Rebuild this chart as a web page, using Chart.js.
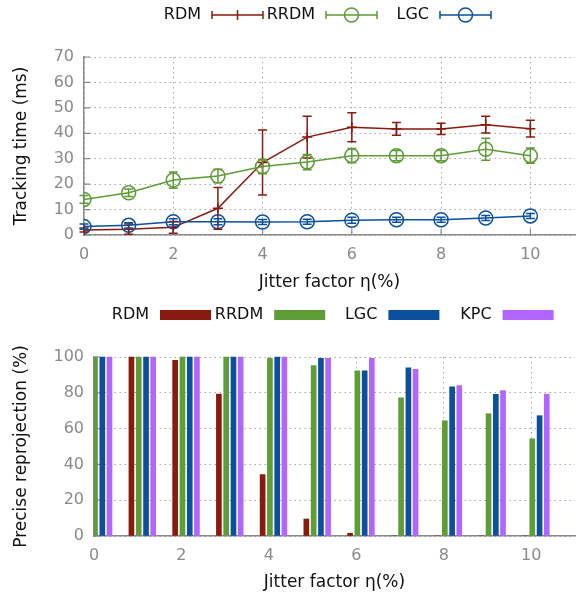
<!DOCTYPE html>
<html><head><meta charset="utf-8">
<script src="https://cdn.jsdelivr.net/npm/chart.js@4.4.0/dist/chart.umd.min.js"></script>
<style>
html,body{margin:0;padding:0;background:#fff;}
#wrap{position:relative;width:587px;height:597px;overflow:hidden;}
#c1{position:absolute;left:0;top:0;width:587px;height:300px;}
#c2{position:absolute;left:0;top:300px;width:587px;height:297px;}
</style></head><body>
<div id="wrap"><canvas id="c1" width="587" height="300"></canvas><canvas id="c2" width="587" height="297"></canvas></div>
<script>
// ---- data ----
const jitter = [0, 1, 2, 3, 4, 5, 6, 7, 8, 9, 10];
const seriesNames = ['RDM', 'RRDM', 'LGC'];
const barNames = ['RDM', 'RRDM', 'LGC', 'KPC'];

const rdmTime   = [2.0, 2.3, 3.0, 10.5, 28.5, 38.5, 42.4, 41.7, 41.7, 43.4, 41.8];
const rdmErr    = [0.8, 2.0, 2.3, 8.2, 12.8, 8.2, 5.7, 2.5, 2.2, 3.3, 3.3];
const rrdmTime  = [14.0, 16.6, 21.6, 23.2, 26.9, 28.7, 31.2, 31.2, 31.2, 33.7, 31.2];
const rrdmErr   = [1.5, 1.5, 3.2, 2.7, 2.8, 3.0, 2.8, 2.0, 2.0, 4.3, 3.0];
const lgcTime   = [3.3, 3.8, 5.2, 5.2, 5.1, 5.2, 5.8, 6.0, 6.0, 6.7, 7.5];
const lgcErr    = [1.0, 1.0, 1.2, 1.2, 1.0, 1.0, 1.2, 1.0, 1.0, 1.0, 1.0];

const rdmPrec  = [100, 100, 98.1, 79.3, 34.3, 9.5, 1.5, 0, 0, 0, 0];
const rrdmPrec = [100, 100, 100, 100, 99.2, 95.2, 92.3, 77.2, 64.4, 68.3, 54.3];
const lgcPrec  = [100, 100, 100, 100, 100, 99.2, 92.3, 94.0, 83.4, 79.2, 67.2];
const kpcPrec  = [100, 100, 100, 100, 100, 99.2, 99.2, 93.1, 84.1, 81.2, 79.3];

const timeTicks = {min: 0, max: 70, step: 10};
const precTicks = {min: 0, max: 100, step: 20};
const xTicks = {min: 0, max: 11, step: 2};

// ---- style ----
const FONT = "'DejaVu Sans', sans-serif";
const RED = '#8b1a0e', GREEN = '#5e9c36', BLUE = '#0a509e', PURPLE = '#b266ff';
const TICK = '#8a8a8a', AXIS = '#8a8a8a', GRID = '#a8a8a8';
const barOffsets = [-0.144, 0.023, 0.19, 0.354];

function pts(ys, dx) { return jitter.map((x, i) => ({x: x + (dx || 0), y: ys[i]})); }

const errorBars = {
  id: 'errorBars',
  afterDatasetsDraw(chart) {
    const ctx = chart.ctx, ys = chart.scales.y;
    chart.data.datasets.forEach((ds, i) => {
      if (!ds.errors) return;
      const meta = chart.getDatasetMeta(i);
      ctx.save();
      ctx.strokeStyle = ds.borderColor; ctx.lineWidth = 1.5;
      meta.data.forEach((el, j) => {
        const v = ds.data[j].y, e = ds.errors[j];
        const y1 = ys.getPixelForValue(v - e), y2 = ys.getPixelForValue(v + e), x = el.x;
        ctx.beginPath();
        ctx.moveTo(x, y1); ctx.lineTo(x, y2);
        ctx.moveTo(x - 4.5, y1); ctx.lineTo(x + 4.5, y1);
        ctx.moveTo(x - 4.5, y2); ctx.lineTo(x + 4.5, y2);
        ctx.stroke();
      });
      ctx.restore();
    });
  }
};

const innerTicks = {
  id: 'innerTicks',
  beforeDatasetsDraw(chart) {
    const ctx = chart.ctx, a = chart.chartArea, xs = chart.scales.x, ys = chart.scales.y;
    ctx.save();
    ctx.strokeStyle = AXIS; ctx.lineWidth = 1.2;
    ctx.beginPath();
    ys.ticks.forEach(t => { const y = ys.getPixelForValue(t.value); ctx.moveTo(a.left, y); ctx.lineTo(a.left + 6, y); });
    xs.ticks.forEach(t => { const x = xs.getPixelForValue(t.value); ctx.moveTo(x, a.bottom); ctx.lineTo(x, a.bottom - 6); });
    ctx.stroke();
    ctx.restore();
  }
};

const decor = {
  id: 'decor',
  afterDraw(chart, args, opts) {
    const ctx = chart.ctx, a = chart.chartArea;
    ctx.save();
    ctx.fillStyle = '#111';
    ctx.font = '17px ' + FONT;
    // y title
    ctx.save();
    ctx.translate(opts.yTitleX, (a.top + a.bottom) / 2);
    ctx.rotate(-Math.PI / 2);
    ctx.textAlign = 'center'; ctx.textBaseline = 'middle';
    ctx.fillText(opts.yTitle, 0, 0);
    ctx.restore();
    // x title
    ctx.textAlign = 'center'; ctx.textBaseline = 'middle';
    ctx.fillText(opts.xTitle, (a.left + a.right) / 2, opts.xTitleY);
    // legend
    ctx.font = '16px ' + FONT;
    ctx.textAlign = 'right';
    const ds = chart.data.datasets;
    opts.legend.forEach((name, i) => {
      const d = ds.find(s => s.label === name);
      const tx = opts.legX + i * opts.legStep, y = opts.legY;
      ctx.fillStyle = '#111';
      ctx.fillText(name, tx, y);
      const sx = tx + 11, w = 51;
      if (opts.kind === 'box') {
        ctx.fillStyle = d.backgroundColor;
        ctx.fillRect(sx, y - 5, w, 10);
      } else {
        ctx.strokeStyle = d.borderColor; ctx.lineWidth = 1.5;
        ctx.beginPath();
        ctx.moveTo(sx, y); ctx.lineTo(sx + w, y);
        ctx.moveTo(sx, y - 4); ctx.lineTo(sx, y + 4);
        ctx.moveTo(sx + w, y - 4); ctx.lineTo(sx + w, y + 4);
        ctx.stroke();
        const cx = sx + w / 2;
        ctx.beginPath();
        if (d.pointStyle === 'cross') {
          ctx.moveTo(cx, y - 5); ctx.lineTo(cx, y + 5);
        } else {
          ctx.arc(cx, y, 7, 0, Math.PI * 2);
        }
        ctx.stroke();
      }
    });
    ctx.restore();
  }
};

function xScale(bottomHeight) {
  return {
    type: 'linear', min: xTicks.min, max: xTicks.max, offset: false,
    afterFit(s) { s.height = bottomHeight; },
    ticks: {stepSize: xTicks.step, includeBounds: false, color: TICK, font: {family: FONT, size: 16}, padding: 10, maxRotation: 0},
    grid: {color: GRID, lineWidth: 1, drawTicks: false, offset: false},
    border: {color: AXIS, width: 1.5, dash: [1.5, 3.5]}
  };
}
function yScale(t, width) {
  return {
    min: t.min, max: t.max,
    afterFit(s) { s.width = width; },
    ticks: {stepSize: t.step, color: TICK, font: {family: FONT, size: 16}, padding: 10},
    grid: {color: GRID, lineWidth: 1, drawTicks: false},
    border: {color: AXIS, width: 1.5, dash: [1.5, 3.5]}
  };
}

// ---- top chart ----
const lineColors = [RED, GREEN, BLUE];
const lineVals = [rdmTime, rrdmTime, lgcTime];
const lineErrs = [rdmErr, rrdmErr, lgcErr];
new Chart(document.getElementById('c1'), {
  type: 'line',
  data: {
    datasets: seriesNames.map((n, i) => ({
      label: n, data: pts(lineVals[i]), errors: lineErrs[i],
      borderColor: lineColors[i], backgroundColor: 'rgba(0,0,0,0)',
      borderWidth: 1.5, tension: 0,
      pointStyle: i === 0 ? 'cross' : 'circle',
      pointRadius: i === 0 ? 5 : 7, pointBorderWidth: 1.5,
      pointBackgroundColor: 'rgba(0,0,0,0)', pointBorderColor: lineColors[i],
      order: 3 - i
    }))
  },
  options: {
    responsive: false, animation: false,
    layout: {padding: {top: 57, right: 12, left: 0, bottom: 0}},
    scales: {x: xScale(65), y: yScale(timeTicks, 84)},
    plugins: {
      legend: {display: false}, tooltip: {enabled: false},
      decor: {yTitle: 'Tracking time (ms)', yTitleX: 22, xTitle: 'Jitter factor η(%)', xTitleY: 283,
        legend: seriesNames, legX: 201, legStep: 114, legY: 15, kind: 'line'}
    }
  },
  plugins: [innerTicks, errorBars, decor]
});

// ---- bottom chart ----
const barColors = [RED, GREEN, BLUE, PURPLE];
const barVals = [rdmPrec, rrdmPrec, lgcPrec, kpcPrec];
new Chart(document.getElementById('c2'), {
  type: 'bar',
  data: {
    datasets: barNames.map((n, i) => ({
      label: n, data: pts(barVals[i], barOffsets[i]),
      backgroundColor: barColors[i], borderWidth: 0,
      barThickness: 5, grouped: false,
      clip: {left: 0, right: 0, top: false, bottom: 0}
    }))
  },
  options: {
    responsive: false, animation: false,
    layout: {padding: {top: 57, right: 12, left: 0, bottom: 0}},
    scales: {x: xScale(61), y: yScale(precTicks, 94)},
    plugins: {
      legend: {display: false}, tooltip: {enabled: false},
      decor: {yTitle: 'Precise reprojection (%)', yTitleX: 22, xTitle: 'Jitter factor η(%)', xTitleY: 283,
        legend: barNames, legX: 149, legStep: 114.2, legY: 15, kind: 'box'}
    }
  },
  plugins: [innerTicks, decor]
});
</script>
</body></html>
